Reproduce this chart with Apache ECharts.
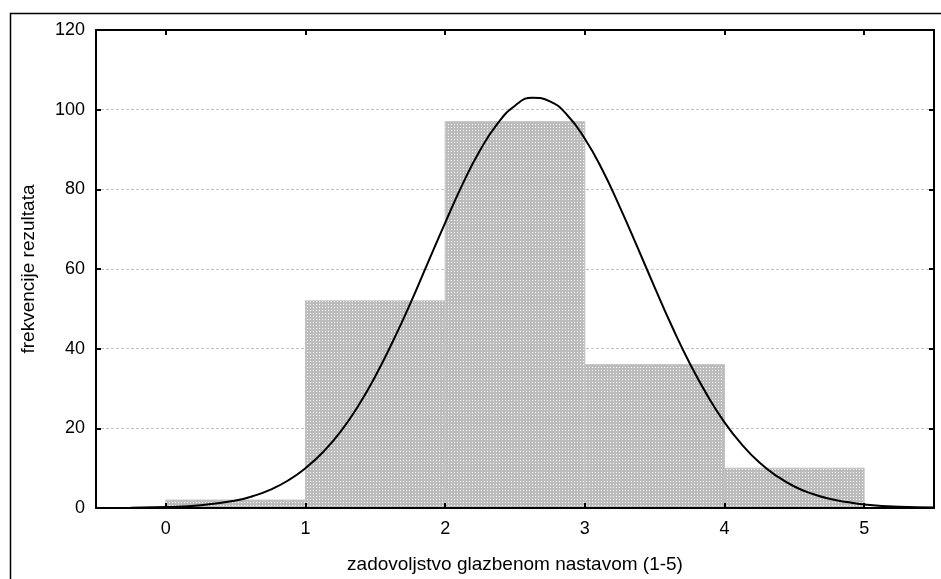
<!DOCTYPE html>
<html>
<head>
<meta charset="utf-8">
<script src="https://cdn.jsdelivr.net/npm/echarts@6/dist/echarts.min.js"></script>
<style>
  html, body { margin: 0; padding: 0; background: #fff; }
  #chart { width: 941px; height: 579px; }
</style>
</head>
<body>
<div id="chart"></div>
<script>
// histogram bins
const binStart = [0, 1, 2, 3, 4]
const binEnd = [1, 2, 3, 4, 5]
const counts = [2, 52, 97, 36, 10]

// fitted curve
const curveX = [-0.5, -0.25, 0, 0.25, 0.5, 0.625, 0.75, 0.875, 1, 1.125, 1.25, 1.375, 1.5, 1.625, 1.75, 1.875,
  2, 2.125, 2.25, 2.375, 2.5, 2.625, 2.75, 2.875, 3, 3.125, 3.25, 3.375, 3.5, 3.625, 3.75, 3.875,
  4, 4.125, 4.25, 4.375, 4.5, 4.625, 4.75, 4.875, 5, 5.25, 5.5]
const curveY = [0.02, 0.08, 0.25, 0.7, 1.9, 3.0, 4.6, 6.9, 10, 14, 19.1, 25.5, 33.1, 41.8, 51.3, 61.5,
  71.6, 81.3, 89.8, 96.5, 101, 103, 102.1, 98.6, 92.7, 84.9, 75.6, 65.6, 55.4, 45.5, 36.4, 28.4,
  21.5, 15.9, 11.4, 8.0, 5.4, 3.6, 2.3, 1.5, 0.9, 0.3, 0.1]

const yTicks = [0, 20, 40, 60, 80, 100, 120]

// dotted grey fill like the original
const tile = document.createElement('canvas')
tile.width = 3
tile.height = 3
const tctx = tile.getContext('2d')
tctx.fillStyle = '#bcbcbc'
tctx.fillRect(0, 0, 3, 3)
tctx.fillStyle = '#ffffff'
tctx.fillRect(1, 1, 1, 1)
const dotFill = { image: tile, repeat: 'repeat' }

const font = 'Liberation Sans, Arial, sans-serif'
const chart = echarts.init(document.getElementById('chart'))

chart.setOption({
  animation: false,
  backgroundColor: '#fff',
  graphic: [
    {
      type: 'rect',
      left: 8,
      top: 11,
      shape: { width: 960, height: 600 },
      style: { fill: 'none', stroke: '#000', lineWidth: 1.5 },
      z: -1,
    },
  ],
  grid: { left: 96, top: 30, right: 7, bottom: 71 },
  xAxis: [
    {
      type: 'value',
      min: -0.5,
      max: 5.5,
      splitNumber: 6,
      z: 10,
      name: 'zadovoljstvo glazbenom nastavom (1-5)',
      nameLocation: 'middle',
      nameGap: 47,
      nameTextStyle: { color: '#000', fontFamily: font, fontSize: 19 },
      axisLine: { onZero: false, lineStyle: { color: '#000', width: 2 } },
      axisTick: { inside: true, length: 5, lineStyle: { color: '#000', width: 2 } },
      axisLabel: { color: '#000', fontFamily: font, fontSize: 18, margin: 12, showMinLabel: false, showMaxLabel: false },
      splitLine: { show: false },
    },
    {
      type: 'value',
      position: 'top',
      min: -0.5,
      max: 5.5,
      splitNumber: 6,
      z: 10,
      axisLine: { onZero: false, lineStyle: { color: '#000', width: 2 } },
      axisTick: { inside: true, length: 5, lineStyle: { color: '#000', width: 2 } },
      axisLabel: { show: false },
      splitLine: { show: false },
    },
  ],
  yAxis: [
    {
      type: 'value',
      min: yTicks[0],
      max: yTicks[yTicks.length - 1],
      interval: 20,
      name: 'frekvencije rezultata',
      nameLocation: 'middle',
      nameGap: 58,
      nameTextStyle: { color: '#000', fontFamily: font, fontSize: 19 },
      axisLine: { show: true, onZero: false, lineStyle: { color: '#000', width: 2 } },
      axisTick: { inside: true, length: 5, lineStyle: { color: '#000', width: 2 } },
      axisLabel: { color: '#000', fontFamily: font, fontSize: 18, margin: 11 },
      splitLine: { show: true, lineStyle: { color: '#c4c4c4', width: 1, type: [3, 2] } },
    },
    {
      type: 'value',
      position: 'right',
      min: yTicks[0],
      max: yTicks[yTicks.length - 1],
      interval: 20,
      z: 10,
      axisLine: { show: true, onZero: false, lineStyle: { color: '#000', width: 2 } },
      axisTick: { inside: true, length: 5, lineStyle: { color: '#000', width: 2 } },
      axisLabel: { show: false },
      splitLine: { show: false },
    },
  ],
  series: [
    {
      type: 'custom',
      xAxisIndex: 0,
      yAxisIndex: 0,
      encode: { x: [0, 1], y: 2 },
      data: counts.map((c, i) => [binStart[i], binEnd[i], c]),
      renderItem(params, api) {
        const p0 = api.coord([api.value(0), api.value(2)])
        const p1 = api.coord([api.value(1), 0])
        return {
          type: 'rect',
          shape: { x: p0[0], y: p0[1], width: p1[0] - p0[0], height: p1[1] - p0[1] },
          style: { fill: dotFill, stroke: '#c4c4c4', lineWidth: 1 },
        }
      },
      z: 2,
    },
    {
      type: 'line',
      xAxisIndex: 0,
      yAxisIndex: 0,
      data: curveX.map((x, i) => [x, curveY[i]]),
      smooth: true,
      showSymbol: false,
      lineStyle: { color: '#000', width: 2 },
      z: 5,
    },
  ],
})
</script>
</body>
</html>
